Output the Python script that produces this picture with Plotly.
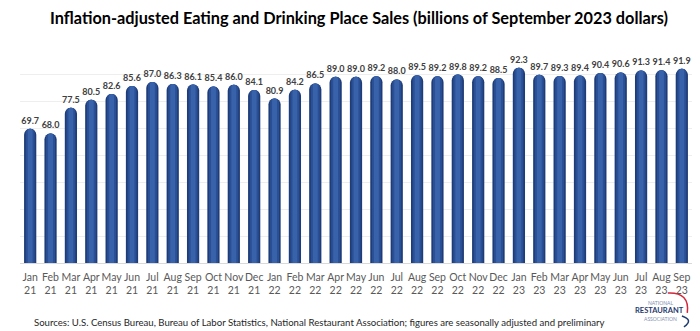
import plotly.graph_objects as go

months = ["Jan", "Feb", "Mar", "Apr", "May", "Jun", "Jul", "Aug", "Sep", "Oct", "Nov", "Dec"] * 2 + \
         ["Jan", "Feb", "Mar", "Apr", "May", "Jun", "Jul", "Aug", "Sep"]
years = ["21"] * 12 + ["22"] * 12 + ["23"] * 9
categories = [f"{m}<br>{y}" for m, y in zip(months, years)]
sales = [69.7, 68.0, 77.5, 80.5, 82.6, 85.6, 87.0, 86.3, 86.1, 85.4, 86.0, 84.1,
         80.9, 84.2, 86.5, 89.0, 89.0, 89.2, 88.0, 89.5, 89.2, 89.8, 89.2, 88.5,
         92.3, 89.7, 89.3, 89.4, 90.4, 90.6, 91.3, 91.4, 91.9]
labels = [f"{v:.1f}" for v in sales]

FONT = "Lato, Carlito, 'Open Sans', sans-serif"

fig = go.Figure()
fig.add_trace(go.Bar(
    x=categories, y=sales, width=0.6,
    marker=dict(color="#1E3C77", cornerradius="50%", line=dict(width=0)),
    text=labels, textposition="outside", cliponaxis=False, constraintext="none",
    textfont=dict(family=FONT, size=9, color="#404040", weight="bold"),
    hoverinfo="skip",
))
fig.add_trace(go.Bar(
    x=categories, y=sales, width=0.44,
    marker=dict(color="#2A4F95", cornerradius="50%", line=dict(width=0)),
    hoverinfo="skip",
))
fig.add_trace(go.Bar(
    x=categories, y=sales, width=0.24,
    marker=dict(color="#3862AA", cornerradius="50%", line=dict(width=0)),
    hoverinfo="skip",
))

fig.update_layout(
    width=700, height=331,
    margin=dict(l=20, r=8, t=47, b=68),
    paper_bgcolor="white", plot_bgcolor="white",
    barmode="overlay", showlegend=False,
    font=dict(family=FONT, color="#595959"),
    title=dict(
        text="<b>Inflation-adjusted Eating and Drinking Place Sales (billions of September 2023 dollars)</b>",
        x=0.513, xanchor="center", y=0.945, yanchor="middle",
        font=dict(family=FONT, size=16.3, color="#000000"),
    ),
    xaxis=dict(
        showgrid=False, showline=True, linecolor="#D9D9D9", linewidth=1,
        tickfont=dict(family=FONT, size=10.5, color="#595959"),
        ticks="", tickangle=0, ticklabelstandoff=4,
    ),
    yaxis=dict(
        range=[20, 100], dtick=10, showticklabels=False,
        showgrid=True, gridcolor="#EEEEEE", gridwidth=1, zeroline=False,
    ),
)

fig.add_annotation(
    text="Sources: U.S. Census Bureau, Bureau of Labor Statistics, National Restaurant Association; figures are seasonally adjusted and preliminary",
    xref="paper", yref="paper", x=0.018, y=-0.275, xanchor="left", yanchor="middle",
    showarrow=False, font=dict(family=FONT, size=9.6, color="#262626"),
)

# logo approximation
fig.add_annotation(text="NATIONAL", xref="paper", yref="paper", x=0.953, y=-0.185,
                   xanchor="center", yanchor="middle", showarrow=False,
                   font=dict(family=FONT, size=5, color="#8090B0"))
fig.add_annotation(text="<b>RESTAURANT</b>", xref="paper", yref="paper", x=0.951, y=-0.222,
                   xanchor="center", yanchor="middle", showarrow=False,
                   font=dict(family=FONT, size=7.5, color="#1F3A6E"))
fig.add_annotation(text="ASSOCIATION", xref="paper", yref="paper", x=0.953, y=-0.259,
                   xanchor="center", yanchor="middle", showarrow=False,
                   font=dict(family=FONT, size=5, color="#8090B0"))
fig.add_shape(type="path", xref="paper", yref="paper",
              path="M 0.964 -0.139 Q 0.997 -0.134 0.993 -0.231",
              line=dict(color="#D0283C", width=1.5))
fig.add_shape(type="path", xref="paper", yref="paper",
              path="M 0.985 -0.245 Q 1.003 -0.264 0.988 -0.296",
              line=dict(color="#1F3A6E", width=1.5))

fig.write_html("out.html")
